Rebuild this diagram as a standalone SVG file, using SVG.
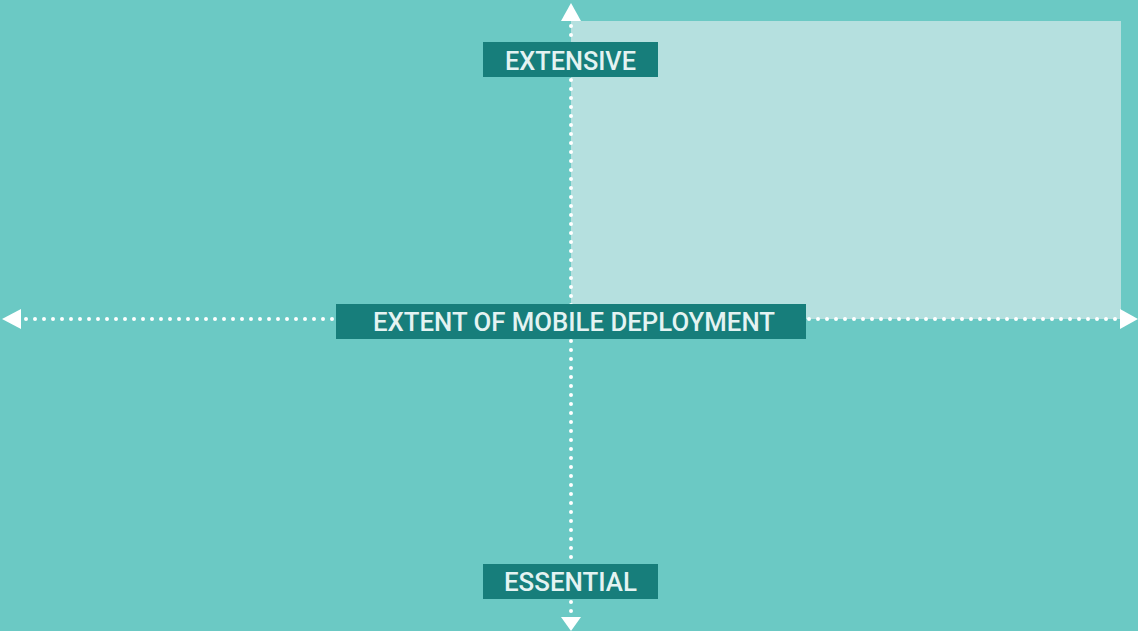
<svg xmlns="http://www.w3.org/2000/svg" width="1138" height="631" viewBox="0 0 1138 631">
<style>
.lbl{fill:#177e7b}
.t{font-family:Roboto,"DejaVu Sans Condensed",sans-serif;font-size:26px;font-weight:500;fill:#e4f3f2;text-anchor:middle}
.dot{stroke:#ffffff;stroke-width:4;stroke-linecap:round;stroke-dasharray:0 9;fill:none}
.arr{fill:#ffffff}
</style>
<rect width="1138" height="631" fill="#6bc9c4"/>
<rect id="quadrant" x="571" y="21" width="550" height="298" fill="#b5e0df"/>
<g id="connectors">
<line class="dot" x1="26" y1="319" x2="1116" y2="319"/>
<line class="dot" x1="571" y1="26" x2="571" y2="614"/>
<polygon class="arr" points="571,3 581,21 561,21"/>
<polygon class="arr" points="571,631 581,617 561,617"/>
<polygon class="arr" points="2,319 21,309 21,329"/>
<polygon class="arr" points="1138,319 1120,309 1120,329"/>
</g>
<g id="extensive">
<rect class="lbl" x="483" y="42" width="175" height="35"/>
<text class="t" x="570.5" y="69.5" textLength="131" lengthAdjust="spacingAndGlyphs">EXTENSIVE</text>
</g>
<g id="extent">
<rect class="lbl" x="336" y="304" width="470" height="35"/>
<text class="t" x="574" y="331" textLength="402" lengthAdjust="spacingAndGlyphs">EXTENT OF MOBILE DEPLOYMENT</text>
</g>
<g id="essential">
<rect class="lbl" x="483" y="564" width="175" height="35"/>
<text class="t" x="570.5" y="590.5" textLength="133" lengthAdjust="spacingAndGlyphs">ESSENTIAL</text>
</g>
</svg>
